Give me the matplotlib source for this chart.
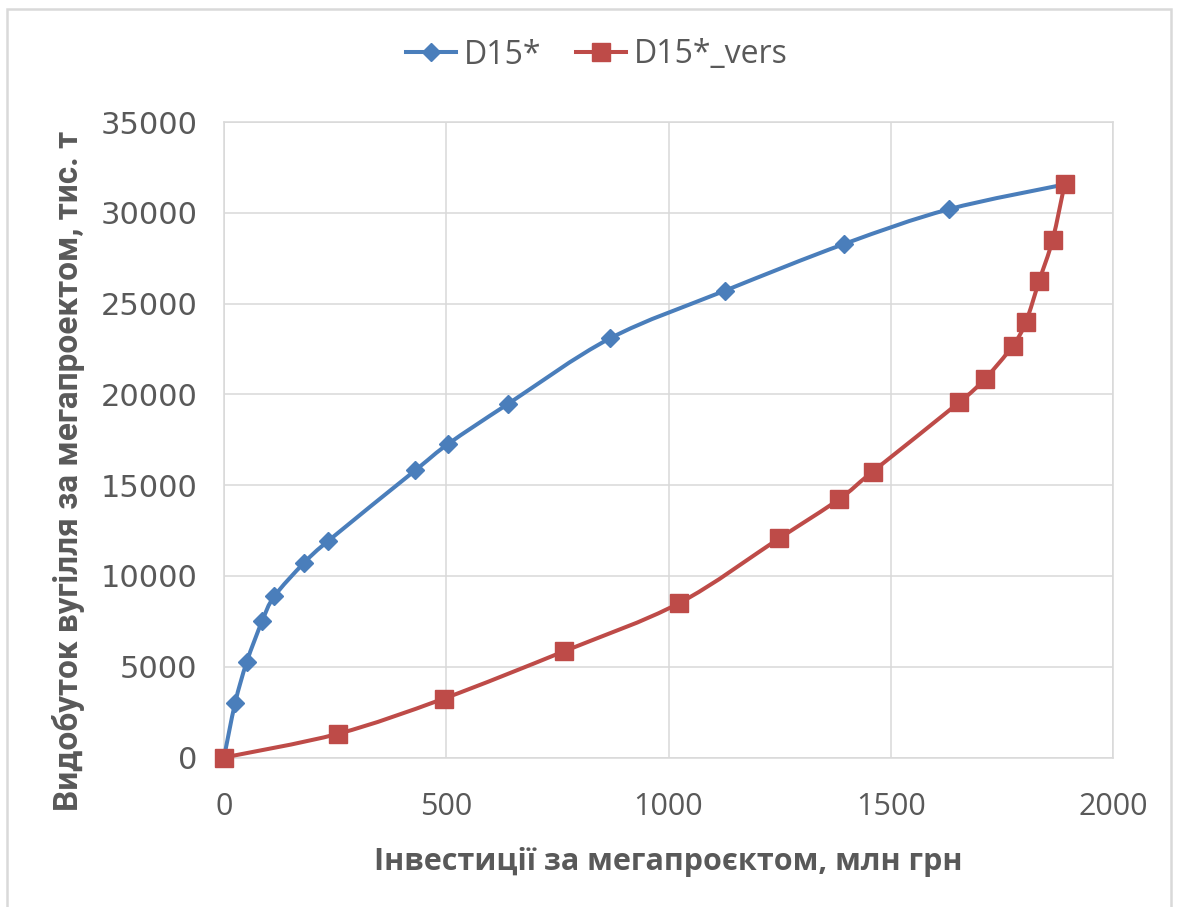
import numpy as np
import matplotlib
matplotlib.use("Agg")
import matplotlib.pyplot as plt
from matplotlib.path import Path
from matplotlib.patches import PathPatch, Rectangle
from matplotlib.lines import Line2D


# data
inv_d15 = [0, 25, 51, 86, 113, 179, 235, 430, 505, 640, 869, 1126, 1395, 1630, 1891]
coal_d15 = [0, 3000, 5250, 7520, 8870, 10690, 11940, 15810, 17280, 19490, 23090, 25700, 28280, 30190, 31560]

inv_vers = [0, 257, 494, 766, 1023, 1249, 1384, 1459, 1654, 1711, 1774, 1804, 1834, 1864, 1891]
coal_vers = [0, 1310, 3240, 5860, 8490, 12070, 14230, 15740, 19560, 20830, 22660, 23990, 26260, 28500, 31560]

xticks = [0, 500, 1000, 1500, 2000]
yticks = [0, 5000, 10000, 15000, 20000, 25000, 30000, 35000]

blue = "#4A7EBB"
red = "#BE4B48"
grey_txt = "#595959"
grid_c = "#D9D9D9"


def smooth_path(xs, ys):
    # excel-like smoothed line: bezier segments through the points
    p = np.column_stack([xs, ys]).astype(float)
    verts = [p[0]]
    codes = [Path.MOVETO]
    n = len(p)
    for i in range(n - 1):
        p0 = p[i - 1] if i > 0 else p[i]
        p1 = p[i]
        p2 = p[i + 1]
        p3 = p[i + 2] if i + 2 < n else p[i + 1]
        c1 = p1 + (p2 - p0) / 6.0
        c2 = p2 - (p3 - p1) / 6.0
        verts += [c1, c2, p2]
        codes += [Path.CURVE4] * 3
    return Path(verts, codes)


fig = plt.figure(figsize=(11.78, 9.07), dpi=100)
ax = fig.add_axes([224 / 1178, 1 - 757.5 / 907, (1113 - 224) / 1178, (757.5 - 122) / 907])

for xs, ys, c in [(inv_d15, coal_d15, blue), (inv_vers, coal_vers, red)]:
    ax.add_patch(PathPatch(smooth_path(xs, ys), facecolor="none", edgecolor=c,
                           lw=2.9, capstyle="round", joinstyle="round", zorder=3,
                           clip_on=False))

ax.plot(inv_d15, coal_d15, linestyle="none", marker="D", ms=9.5, color=blue,
        mec=blue, zorder=4, clip_on=False)
ax.plot(inv_vers, coal_vers, linestyle="none", marker="s", ms=13, color=red,
        mec=red, zorder=4, clip_on=False)

ax.set_xlim(0, 2000)
ax.set_ylim(0, 35000)
ax.set_xticks(xticks)
ax.set_yticks(yticks)
ax.grid(True, color=grid_c, lw=1.1)
ax.set_axisbelow(True)
for s in ax.spines.values():
    s.set_color(grid_c)
    s.set_linewidth(1.1)
ax.tick_params(length=0)
ax.tick_params(axis="x", pad=25, labelsize=22, labelcolor=grey_txt)
ax.tick_params(axis="y", pad=19, labelsize=22, labelcolor=grey_txt)
for lab in ax.get_xticklabels():
    lab.set_family(["Open Sans", "DejaVu Sans"])
for lab in ax.get_yticklabels():
    lab.set_family("DejaVu Sans")

fig.text(668.5 / 1178, 1 - 862 / 907, "Інвестиції за мегапроєктом, млн грн",
         ha="center", va="center", fontsize=22, fontweight="bold", color=grey_txt,
         family=["Open Sans", "DejaVu Sans"])
fig.text(69 / 1178, 1 - 471 / 907, "Видобуток вугілля за мегапроектом, тис. т",
         ha="center", va="center", rotation=90, fontsize=24, fontweight="bold",
         color=grey_txt, family=["Roboto", "DejaVu Sans"])

handles = [
    Line2D([], [], color=blue, lw=2.9, marker="D", ms=9.5),
    Line2D([], [], color=red, lw=2.9, marker="s", ms=13),
]
leg = fig.legend(handles, ["D15*", "D15*_vers"], loc="center",
                 bbox_to_anchor=(597 / 1178, 1 - 55 / 907), ncol=2, frameon=False,
                 prop={"family": ["Open Sans", "DejaVu Sans"], "size": 23},
                 handlelength=1.55, handletextpad=0.25, columnspacing=1.1,
                 labelcolor=grey_txt)

# chart frame
fig.patches.append(Rectangle((7 / 1178, -0.05), (1171 - 7) / 1178, 1.05 - 9 / 907,
                             transform=fig.transFigure, fill=False,
                             edgecolor=grid_c, lw=1.8))

fig.savefig("out.png", dpi=100)
